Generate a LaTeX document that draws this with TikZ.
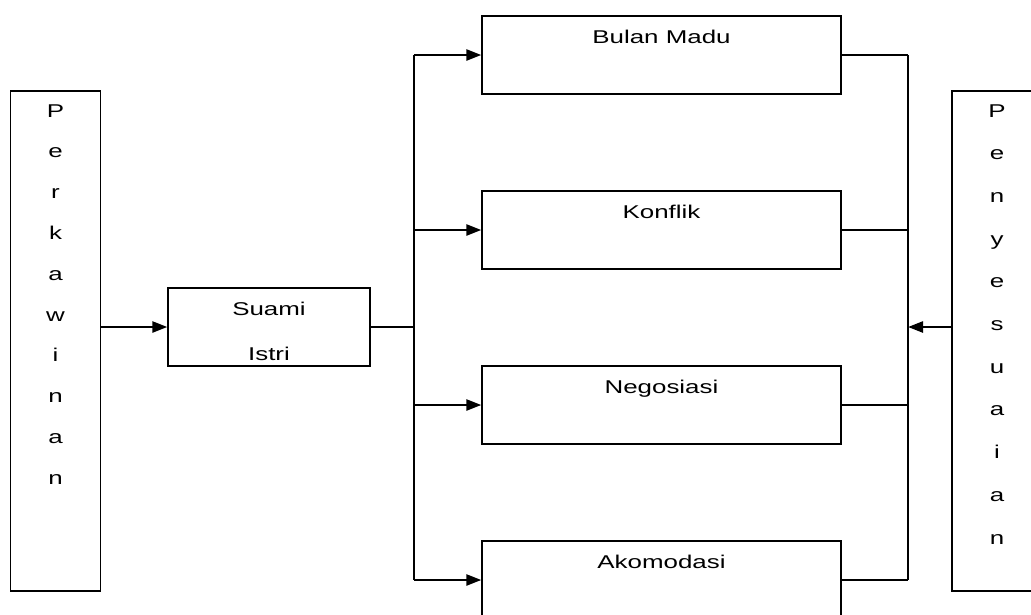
\documentclass[tikz,border=0pt]{standalone}
\usepackage{fontspec}
\setmainfont{Liberation Sans}[FakeStretch=1.4]
\usetikzlibrary{arrows.meta}

\begin{document}
\begin{tikzpicture}[x=1pt, y=-1pt,
  every node/.style={font=\fontsize{18.5pt}{22pt}\selectfont},
  stagebox/.style={draw, line width=1.3pt, inner sep=0pt, minimum width=359pt, text height=27pt, text depth=51pt},
  letterbox/.style={draw, line width=1.3pt, minimum width=90pt, minimum height=500pt},
  feed/.style={line width=2.4pt, -{Triangle[length=15pt,width=11pt]}},
  link/.style={line width=1.3pt}]
	\path[use as bounding box, clip] (0,0) rectangle (1031,614);

	% side boxes
	\node[letterbox] (perk) at (55.5,341) {};
	\node[letterbox] (peny) at (997,341) {};
	\foreach \l [count=\i] in {P,e,r,k,a,w,i,n,a,n}
		\node[anchor=base] (perk\i) at (55.5,{117+(\i-1)*40.8}) {\l};
	\foreach \l [count=\i] in {P,e,n,y,e,s,u,a,i,a,n}
		\node[anchor=base] (peny\i) at (997,{117+(\i-1)*42.7}) {\l};

	% middle
	\node[stagebox, minimum width=202pt] (suami) at (269,327) {Suami};
	\node[anchor=base] (istri) at ([yshift=-45pt]suami.base) {Istri};

	\node[stagebox] (bulan) at (661.5,55) {Bulan Madu};
	\node[stagebox] (konflik) at (661.5,230) {Konflik};
	\node[stagebox] (nego) at (661.5,405) {Negosiasi};
	\node[stagebox] (akom) at (661.5,580) {Akomodasi};

	\coordinate (split) at (414,327);
	\coordinate (join) at (908,327);

	% connectors
	\draw[feed] (suami.west -| perk.east) -- (suami.west);
	\draw[link] (suami.east) -- (split);
	\draw[link] (split |- bulan.west) -- (split |- akom.west);
	\foreach \s in {bulan,konflik,nego,akom}
		\draw[feed] (split |- \s.west) -- (\s.west);
	\draw[link] (join |- bulan.east) -- (join |- akom.east);
	\foreach \s in {bulan,konflik,nego,akom}
		\draw[link] (\s.east) -- (join |- \s.east);
	\draw[feed] (join -| peny.west) -- (join);
\end{tikzpicture}
\end{document}
